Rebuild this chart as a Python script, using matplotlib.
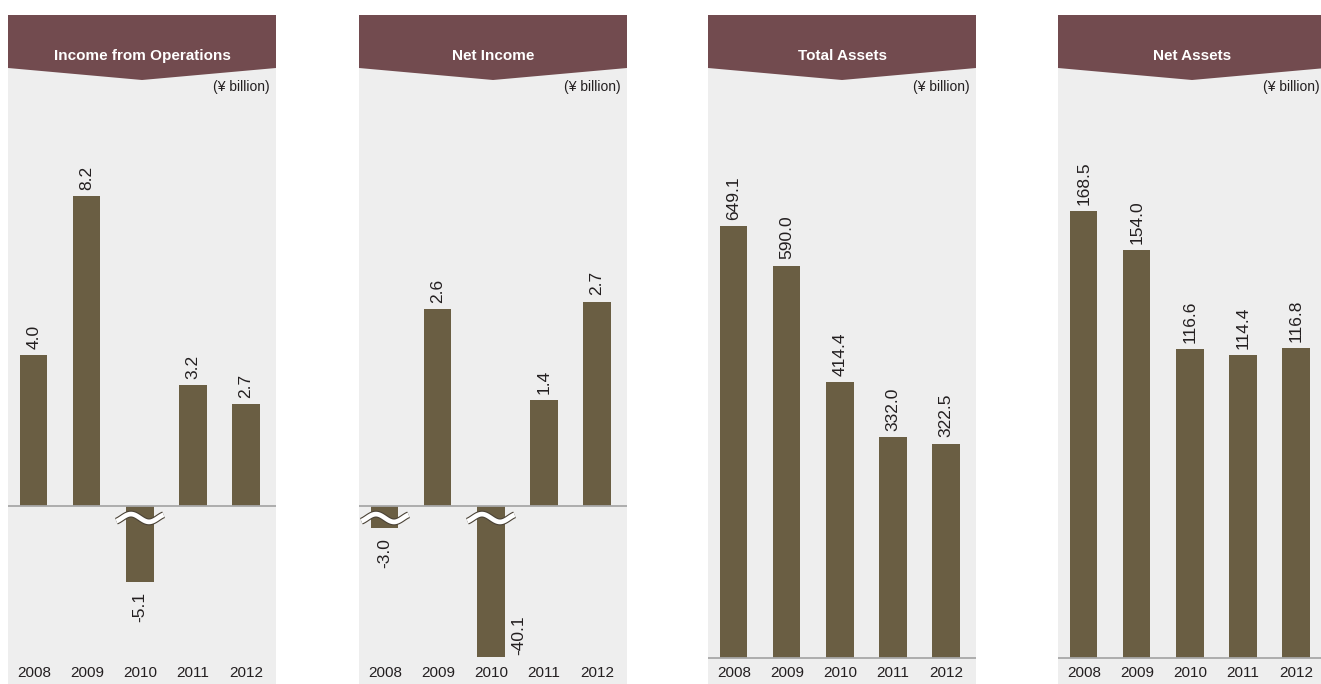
import matplotlib
matplotlib.use('Agg')
import matplotlib.pyplot as plt
import matplotlib.transforms as mtransforms
from matplotlib import font_manager
from matplotlib.patches import Polygon
import numpy as np

# data (¥ billion)
years = ['2008', '2009', '2010', '2011', '2012']
titles = ['Income from Operations', 'Net Income', 'Total Assets', 'Net Assets']
unit_label = '(¥ billion)'

income_ops = [4.0, 8.2, -5.1, 3.2, 2.7]
net_income = [-3.0, 2.6, -40.1, 1.4, 2.7]
total_assets = [649.1, 590.0, 414.4, 332.0, 322.5]
net_assets = [168.5, 154.0, 116.6, 114.4, 116.8]

# bars cut by an axis break are drawn short (index -> value shown)
income_ops_break = {2: -2.0}
net_income_break = {0: -0.29, 2: -2.0}

# fonts
names = {f.name for f in font_manager.fontManager.ttflist}
base_font = 'Liberation Sans' if 'Liberation Sans' in names else 'DejaVu Sans'
if 'Liberation Sans Narrow' in names:
    num_font, val_size, year_size = 'Liberation Sans Narrow', 15, 12.5
else:
    num_font, val_size, year_size = base_font, 12.5, 11
plt.rcParams['font.family'] = [base_font, 'DejaVu Sans']

bg = '#eeeeee'
bar_c = '#6a5e43'
head_c = '#724b4f'
txt_c = '#231f20'

W, H = 1321, 684
fig = plt.figure(figsize=(W / 100, H / 100), dpi=100)

panels = [
    (8, income_ops, income_ops_break, (-4.71, 12.99)),
    (359, net_income, net_income_break, (-2.351, 6.486)),
    (708, total_assets, {}, (-39.1, 966.9)),
    (1058, net_assets, {}, (-9.81, 242.6)),
]
pw, ph = 268, 669


def draw_break(ax, x, dy_px):
    # white wavy break mark, drawn in points around (x, 0)
    t = np.linspace(-17, 17, 80)
    w = -2.8 * np.sin(2 * np.pi * t / 26)
    tr = (mtransforms.Affine2D().translate(0, dy_px * 72 / 100).scale(1 / 72)
          + fig.dpi_scale_trans
          + mtransforms.ScaledTranslation(x, 0, ax.transData))
    ax.plot(t, w, color='#4a4236', lw=5.0, transform=tr, zorder=5,
            solid_capstyle='butt', clip_on=False)
    ax.plot(t, w, color='white', lw=3.4, transform=tr, zorder=6,
            solid_capstyle='butt', clip_on=False)


for (left, vals, brk, ylim), title in zip(panels, titles):
    ax = fig.add_axes([left / W, 0, pw / W, ph / H])
    ax.set_facecolor(bg)
    for s in ax.spines.values():
        s.set_visible(False)
    ax.set_xticks([])
    ax.set_yticks([])
    ax.set_xlim(-0.49, 4.566)
    ax.set_ylim(*ylim)

    x = np.arange(len(years))
    shown = [brk.get(i, v) for i, v in enumerate(vals)]
    ax.bar(x, shown, width=0.51, color=bar_c, zorder=2)
    ax.axhline(0, color='#a8a8a8', lw=1.3, zorder=3)

    for i, (v, h) in enumerate(zip(vals, shown)):
        if i in brk:
            draw_break(ax, i, -12)
        label = f'{v:.1f}'
        if v >= 0:
            ax.annotate(label, (i, h), xytext=(0, 4.5), textcoords='offset points',
                        rotation=90, ha='center', va='bottom', fontsize=val_size,
                        family=num_font, color=txt_c)
        else:
            bottom_px = ax.transData.transform((i, h))[1]
            if bottom_px < 60:
                ax.annotate(label, (i, h), xytext=(20, 1.5), textcoords='offset points',
                            rotation=90, ha='center', va='bottom', fontsize=val_size,
                            family=num_font, color=txt_c)
            else:
                ax.annotate(label, (i, h), xytext=(0, -7.5), textcoords='offset points',
                            rotation=90, ha='center', va='top', fontsize=val_size,
                            family=num_font, color=txt_c)

    blend = mtransforms.blended_transform_factory(ax.transData, ax.transAxes)
    for i, yr in enumerate(years):
        ax.text(i, 11 / ph, yr, transform=blend, ha='center', va='center',
                fontsize=year_size, family=num_font, color=txt_c)

    # header banner with a shallow V at the bottom
    ax.add_patch(Polygon([(0, 1), (1, 1), (1, 1 - 53 / ph), (0.5, 1 - 65 / ph), (0, 1 - 53 / ph)],
                         closed=True, transform=ax.transAxes, facecolor=head_c,
                         edgecolor='none', zorder=4, clip_on=False))
    ax.text(0.5, 1 - 41 / ph, title, transform=ax.transAxes, ha='center', va='center',
            fontsize=11, fontweight='bold', color='white', zorder=5)
    ax.text(1 - 6 / pw, 1 - 72 / ph, unit_label, transform=ax.transAxes, ha='right',
            va='center', fontsize=10, color=txt_c, zorder=5)

fig.savefig('out.png', dpi=100, facecolor='white')
